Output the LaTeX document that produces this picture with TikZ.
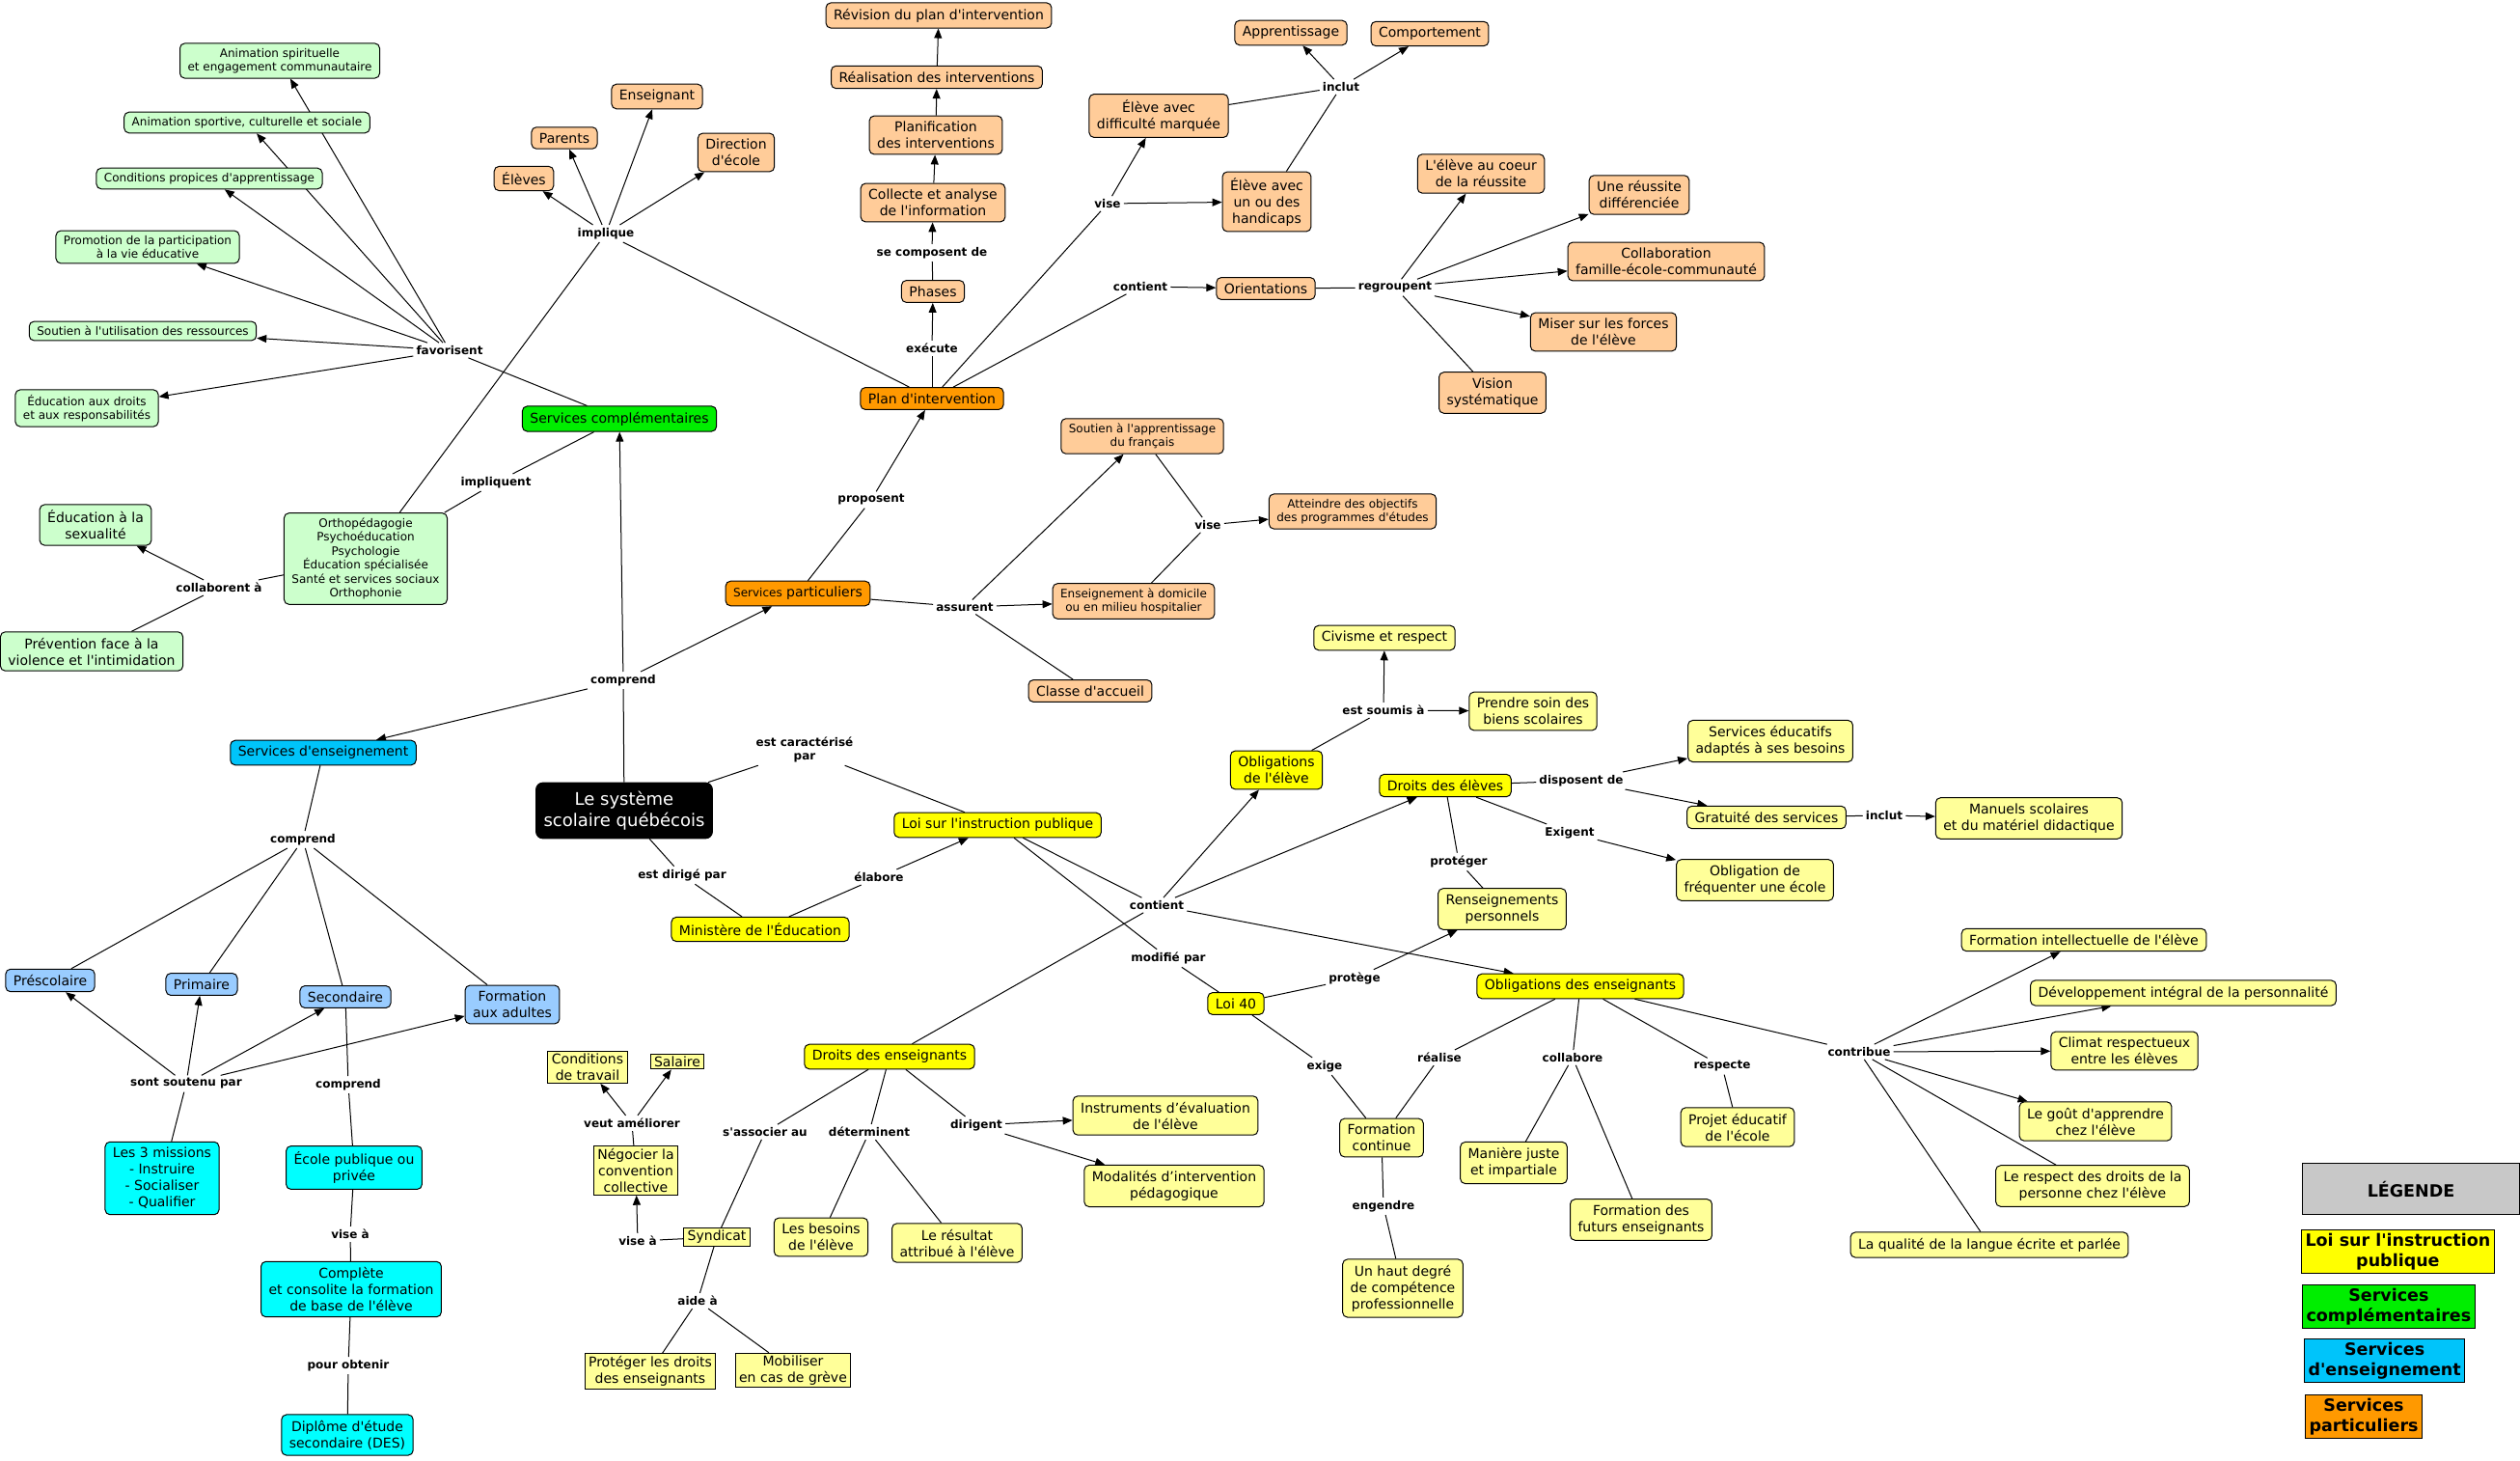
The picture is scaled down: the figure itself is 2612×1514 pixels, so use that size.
\documentclass[tikz,border=0pt]{standalone}
\usepackage{fontspec}
\setmainfont{DejaVu Sans}[Ligatures=TeXOff]
\usetikzlibrary{arrows.meta,backgrounds}

\definecolor{paleGreen}{HTML}{CCFFCC}
\definecolor{brightGreen}{HTML}{00EE00}
\definecolor{peach}{HTML}{FFCC99}
\definecolor{deepOrange}{HTML}{FF9900}
\definecolor{skyBlue}{HTML}{00C4FA}
\definecolor{paleBlue}{HTML}{99CCFF}
\definecolor{aqua}{HTML}{00FFFF}
\definecolor{lawYellow}{HTML}{FFFF00}
\definecolor{paleYellow}{HTML}{FFFF99}
\definecolor{legGrey}{HTML}{C8C8C8}

\tikzset{
  concept/.style={draw, line width=1pt, rounded corners=5pt, align=center,
    inner xsep=8pt, inner ysep=6pt, font=\fontsize{14}{17}\selectfont},
  smalltxt/.style={font=\fontsize{12}{14.5}\selectfont, inner ysep=5pt},
  cgreen/.style={concept, fill=paleGreen},
  cgreenB/.style={concept, fill=brightGreen},
  cpeach/.style={concept, fill=peach},
  corange/.style={concept, fill=deepOrange},
  cblue/.style={concept, fill=skyBlue},
  cpblue/.style={concept, fill=paleBlue},
  caqua/.style={concept, fill=aqua},
  cyellow/.style={concept, fill=lawYellow},
  cpyellow/.style={concept, fill=paleYellow},
  sqbox/.style={draw, line width=1pt, fill=paleYellow, align=center,
    inner xsep=4pt, inner ysep=2.5pt, font=\fontsize{14}{17}\selectfont},
  lbl/.style={font=\bfseries\fontsize{12}{14}\selectfont, align=center, inner sep=3pt},
  legbox/.style={draw, line width=1pt, align=center, anchor=west,
    inner xsep=4pt, inner ysep=4pt, font=\bfseries\fontsize{17.5}{20.5}\selectfont},
  link/.style={line width=1pt},
  arr/.style={link, -{Triangle[length=10pt,width=8pt]}}
}

\begin{document}
\begin{tikzpicture}[x=1pt,y=-1pt]
\useasboundingbox (0,0) rectangle (2612,1514);

% services complementaires
\node[cgreen,smalltxt] (animSpir) at (290,63) {Animation spirituelle\\et engagement communautaire};
\node[cgreen,smalltxt] (animSport) at (256,127) {Animation sportive, culturelle et sociale};
\node[cgreen,smalltxt] (condApp) at (217,185) {Conditions propices d'apprentissage};
\node[cgreen,smalltxt] (promoPart) at (153,256) {Promotion de la participation\\à la vie éducative};
\node[cgreen,smalltxt] (soutRess) at (148,343) {Soutien à l'utilisation des ressources};
\node[cgreen,smalltxt] (eduDroits) at (90,423) {Éducation aux droits\\et aux responsabilités};
\node[cgreen] (eduSex) at (99,544) {Éducation à la\\sexualité};
\node[cgreen,smalltxt] (ortho) at (379,579) {Orthopédagogie\\Psychoéducation\\Psychologie\\Éducation spécialisée\\Santé et services sociaux\\Orthophonie};
\node[cgreen] (prevention) at (95,675) {Prévention face à la\\violence et l'intimidation};
\node[cgreenB] (servComp) at (642,434) {Services complémentaires};

% plan d'intervention
\node[cpeach] (eleves) at (543,185) {Élèves};
\node[cpeach] (parents) at (585,143) {Parents};
\node[cpeach] (enseignant) at (681,100) {Enseignant};
\node[cpeach] (direction) at (763,158) {Direction\\d'école};
\node[cpeach] (revision) at (973,16) {Révision du plan d'intervention};
\node[cpeach] (realisation) at (971,80) {Réalisation des interventions};
\node[cpeach] (planif) at (970,140) {Planification\\des interventions};
\node[cpeach] (collecte) at (967,210) {Collecte et analyse\\de l'information};
\node[cpeach] (phases) at (967,302) {Phases};
\node[cpeach] (diffMarq) at (1201,120) {Élève avec\\difficulté marquée};
\node[cpeach] (handicap) at (1313,209) {Élève avec\\un ou des\\handicaps};
\node[cpeach] (apprent) at (1338,34) {Apprentissage};
\node[cpeach] (comport) at (1482,35) {Comportement};
\node[cpeach] (orient) at (1312,299) {Orientations};
\node[cpeach] (coeur) at (1535,180) {L'élève au coeur\\de la réussite};
\node[cpeach] (reussDiff) at (1699,202) {Une réussite\\différenciée};
\node[cpeach] (collab) at (1727,271) {Collaboration\\famille-école-communauté};
\node[cpeach] (forces) at (1662,344) {Miser sur les forces\\de l'élève};
\node[cpeach] (vision) at (1547,407) {Vision\\systématique};
\node[cpeach,smalltxt] (soutFr) at (1184,452) {Soutien à l'apprentissage\\du français};
\node[cpeach,smalltxt] (domicile) at (1175,623) {Enseignement à domicile\\ou en milieu hospitalier};
\node[cpeach,smalltxt] (atteindre) at (1402,530) {Atteindre des objectifs\\des programmes d'études};
\node[cpeach] (accueil) at (1130,716) {Classe d'accueil};
\node[corange] (plan) at (966,413) {Plan d'intervention};
\node[corange] (servPart) at (827,615) {{\fontsize{12}{14}\selectfont Services} particuliers};

% systeme et services d'enseignement
\node[concept, fill=black, text=white, font=\fontsize{18}{21.5}\selectfont, inner ysep=9pt,
  rounded corners=7pt] (systeme) at (647,840) {Le système\\scolaire québécois};
\node[cblue] (servEns) at (335,780) {Services d'enseignement};
\node[cpblue] (presco) at (52,1016) {Préscolaire};
\node[cpblue] (primaire) at (209,1020) {Primaire};
\node[cpblue] (second) at (358,1033) {Secondaire};
\node[cpblue] (adultes) at (531,1041) {Formation\\aux adultes};
\node[caqua] (missions) at (168,1221) {Les 3 missions\\- Instruire\\- Socialiser\\- Qualifier};
\node[caqua] (ecole) at (367,1210) {École publique ou\\privée};
\node[caqua] (complete) at (364,1336) {Complète\\et consolite la formation\\de base de l'élève};
\node[caqua] (diplome) at (360,1487) {Diplôme d'étude\\secondaire (DES)};

% loi sur l'instruction publique
\node[cyellow] (loi) at (1034,855) {Loi sur l'instruction publique};
\node[cyellow] (ministere) at (788,963) {Ministère de l'Éducation};
\node[cyellow] (oblEleve) at (1323,798) {Obligations\\de l'élève};
\node[cyellow] (droitsEl) at (1498,814) {Droits des élèves};
\node[cyellow] (droitsEns) at (922,1095) {Droits des enseignants};
\node[cyellow] (loi40) at (1281,1040) {Loi 40};
\node[cyellow] (oblEns) at (1638,1022) {Obligations des enseignants};
\node[cpyellow] (civisme) at (1435,661) {Civisme et respect};
\node[cpyellow] (soin) at (1589,737) {Prendre soin des\\biens scolaires};
\node[cpyellow] (servEduc) at (1835,768) {Services éducatifs\\adaptés à ses besoins};
\node[cpyellow] (gratuite) at (1831,847) {Gratuité des services};
\node[cpyellow] (manuels) at (2103,848) {Manuels scolaires\\et du matériel didactique};
\node[cpyellow] (frequenter) at (1819,912) {Obligation de\\fréquenter une école};
\node[cpyellow] (renseign) at (1557,942) {Renseignements\\personnels};
\node[cpyellow] (instruments) at (1208,1156) {Instruments d’évaluation\\de l'élève};
\node[cpyellow] (modalites) at (1217,1229) {Modalités d’intervention\\pédagogique};
\node[cpyellow] (besoins) at (851,1282) {Les besoins\\de l'élève};
\node[cpyellow] (resultat) at (992,1288) {Le résultat\\attribué à l'élève};
\node[cpyellow] (formCont) at (1432,1179) {Formation\\continue};
\node[cpyellow] (hautDeg) at (1454,1335) {Un haut degré\\de compétence\\professionnelle};
\node[cpyellow] (maniere) at (1569,1205) {Manière juste\\et impartiale};
\node[cpyellow] (futurs) at (1701,1264) {Formation des\\futurs enseignants};
\node[cpyellow] (projet) at (1801,1168) {Projet éducatif\\de l'école};
\node[cpyellow] (formIntel) at (2160,974) {Formation intellectuelle de l'élève};
\node[cpyellow] (develop) at (2263,1029) {Développement intégral de la personnalité};
\node[cpyellow] (climat) at (2202,1089) {Climat respectueux\\entre les élèves};
\node[cpyellow] (gout) at (2172,1162) {Le goût d'apprendre\\chez l'élève};
\node[cpyellow] (respDroits) at (2169,1229) {Le respect des droits de la\\personne chez l'élève};
\node[cpyellow] (qualite) at (2062,1290) {La qualité de la langue écrite et parlée};
\node[sqbox] (condTrav) at (609,1106) {Conditions\\de travail};
\node[sqbox] (salaire) at (702,1100) {Salaire};
\node[sqbox] (negocier) at (659,1213) {Négocier la\\convention\\collective};
\node[sqbox] (syndicat) at (743,1282) {Syndicat};
\node[sqbox] (protDroits) at (674,1421) {Protéger les droits\\des enseignants};
\node[sqbox] (mobiliser) at (822,1420) {Mobiliser\\en cas de grève};

% mots de liaison
\node[lbl] (fav) at (466,363) {favorisent};
\node[lbl] (impl) at (628,242) {implique};
\node[lbl] (implq) at (514,500) {impliquent};
\node[lbl] (collabA) at (227,609) {collaborent à};
\node[lbl] (compr1) at (646,705) {comprend};
\node[lbl] (compr2) at (314,870) {comprend};
\node[lbl] (compr3) at (361,1124) {comprend};
\node[lbl] (soutenu) at (193,1123) {sont soutenu par};
\node[lbl] (viseA1) at (363,1279) {vise à};
\node[lbl] (pourObt) at (361,1415) {pour obtenir};
\node[lbl] (proposent) at (903,518) {proposent};
\node[lbl] (executeL) at (966,361) {exécute};
\node[lbl] (composent) at (966,262) {se composent de};
\node[lbl] (vise1) at (1148,211) {vise};
\node[lbl] (inclut1) at (1390,90) {inclut};
\node[lbl] (contient1) at (1182,297) {contient};
\node[lbl] (regroupent) at (1446,298) {regroupent};
\node[lbl] (assurent) at (1000,629) {assurent};
\node[lbl] (vise2) at (1252,544) {vise};
\node[lbl] (caract) at (834,777) {est caractérisé\\par};
\node[lbl] (dirige) at (707,907) {est dirigé par};
\node[lbl] (elabore) at (911,909) {élabore};
\node[lbl] (contient2) at (1199,938) {contient};
\node[lbl] (modifie) at (1211,993) {modifié par};
\node[lbl] (soumis) at (1434,736) {est soumis à};
\node[lbl] (disposent) at (1639,809) {disposent de};
\node[lbl] (inclut2) at (1953,845) {inclut};
\node[lbl] (exigent) at (1627,863) {Exigent};
\node[lbl] (proteger) at (1512,893) {protéger};
\node[lbl] (protege) at (1404,1014) {protège};
\node[lbl] (exige) at (1373,1105) {exige};
\node[lbl] (realise) at (1492,1096) {réalise};
\node[lbl] (collabore) at (1630,1096) {collabore};
\node[lbl] (respecte) at (1785,1105) {respecte};
\node[lbl] (contribue) at (1927,1090) {contribue};
\node[lbl] (engendre) at (1434,1250) {engendre};
\node[lbl] (veutAm) at (655,1164) {veut améliorer};
\node[lbl] (viseA2) at (661,1286) {vise à};
\node[lbl] (aideA) at (723,1348) {aide à};
\node[lbl] (associer) at (793,1173) {s'associer au};
\node[lbl] (determinent) at (901,1173) {déterminent};
\node[lbl] (dirigent) at (1012,1166) {dirigent};

% legende
\node[legbox, fill=legGrey, minimum width=225pt, minimum height=53pt] (legTitle) at (2386,1232) {LÉGENDE};
\node[legbox, fill=lawYellow] (legLoi) at (2385,1297) {Loi sur l'instruction\\publique};
\node[legbox, fill=brightGreen] (legComp) at (2386,1354) {Services\\complémentaires};
\node[legbox, fill=skyBlue] (legEns) at (2388,1410) {Services\\d'enseignement};
\node[legbox, fill=deepOrange] (legPart) at (2389,1468) {Services\\particuliers};

\begin{scope}[on background layer]
\fill[white] (0,0) rectangle (2612,1514);
% services complementaires
\draw[link] (servComp) -- (fav);
\foreach \dst in {animSpir,animSport,condApp,promoPart,soutRess,eduDroits}
  \draw[arr] (fav) -- (\dst);
\draw[link] (plan) -- (impl);
\draw[link] (ortho) -- (impl);
\foreach \dst in {eleves,parents,enseignant,direction}
  \draw[arr] (impl) -- (\dst);
\draw[link] (servComp) -- (implq);
\draw[link] (implq) -- (ortho);
\draw[link] (ortho) -- (collabA);
\draw[arr] (collabA) -- (eduSex);
\draw[link] (collabA) -- (prevention);
% systeme
\draw[link] (systeme) -- (compr1);
\foreach \dst in {servComp,servEns,servPart}
  \draw[arr] (compr1) -- (\dst);
\draw[link] (servEns) -- (compr2);
\foreach \dst in {presco,primaire,second,adultes}
{
  \draw[link] (compr2) -- (\dst);
  \draw[arr] (soutenu) -- (\dst);
}
\draw[link] (missions) -- (soutenu);
\draw[link] (second) -- (compr3);
\draw[link] (compr3) -- (ecole);
\draw[link] (ecole) -- (viseA1);
\draw[link] (viseA1) -- (complete);
\draw[link] (complete) -- (pourObt);
\draw[link] (pourObt) -- (diplome);
% plan d'intervention
\draw[link] (servPart) -- (proposent);
\draw[arr] (proposent) -- (plan);
\draw[link] (plan) -- (executeL);
\draw[arr] (executeL) -- (phases);
\draw[link] (phases) -- (composent);
\draw[arr] (composent) -- (collecte);
\draw[arr] (collecte) -- (planif);
\draw[arr] (planif) -- (realisation);
\draw[arr] (realisation) -- (revision);
\draw[link] (plan) -- (vise1);
\foreach \dst in {diffMarq,handicap}
  \draw[arr] (vise1) -- (\dst);
\draw[link] (diffMarq) -- (inclut1);
\draw[link] (handicap) -- (inclut1);
\foreach \dst in {apprent,comport}
  \draw[arr] (inclut1) -- (\dst);
\draw[link] (plan) -- (contient1);
\draw[arr] (contient1) -- (orient);
\draw[link] (orient) -- (regroupent);
\foreach \dst in {coeur,reussDiff,collab,forces}
  \draw[arr] (regroupent) -- (\dst);
\draw[link] (regroupent) -- (vision);
\draw[link] (servPart) -- (assurent);
\foreach \dst in {domicile,soutFr}
  \draw[arr] (assurent) -- (\dst);
\draw[link] (assurent) -- (accueil);
\draw[link] (soutFr) -- (vise2);
\draw[link] (domicile) -- (vise2);
\draw[arr] (vise2) -- (atteindre);
% loi
\draw[link] (systeme) -- (caract);
\draw[link] (caract) -- (loi);
\draw[link] (systeme) -- (dirige);
\draw[link] (dirige) -- (ministere);
\draw[link] (ministere) -- (elabore);
\draw[arr] (elabore) -- (loi);
\draw[link] (loi) -- (contient2);
\foreach \dst in {oblEleve,droitsEl,oblEns}
  \draw[arr] (contient2) -- (\dst);
\draw[link] (contient2) -- (droitsEns);
\draw[link] (loi) -- (modifie);
\draw[link] (modifie) -- (loi40);
\draw[link] (oblEleve) -- (soumis);
\foreach \dst in {civisme,soin}
  \draw[arr] (soumis) -- (\dst);
\draw[link] (droitsEl) -- (disposent);
\foreach \dst in {servEduc,gratuite}
  \draw[arr] (disposent) -- (\dst);
\draw[link] (gratuite) -- (inclut2);
\draw[arr] (inclut2) -- (manuels);
\draw[link] (droitsEl) -- (exigent);
\draw[arr] (exigent) -- (frequenter);
\draw[link] (droitsEl) -- (proteger);
\draw[link] (proteger) -- (renseign);
\draw[link] (loi40) -- (protege);
\draw[arr] (protege) -- (renseign);
\draw[link] (loi40) -- (exige);
\draw[link] (exige) -- (formCont);
\draw[link] (oblEns) -- (realise);
\draw[link] (realise) -- (formCont);
\draw[link] (formCont) -- (engendre);
\draw[link] (engendre) -- (hautDeg);
\draw[link] (oblEns) -- (collabore);
\foreach \dst in {maniere,futurs}
  \draw[link] (collabore) -- (\dst);
\draw[link] (oblEns) -- (respecte);
\draw[link] (respecte) -- (projet);
\draw[link] (oblEns) -- (contribue);
\foreach \dst in {formIntel,develop,climat,gout}
  \draw[arr] (contribue) -- (\dst);
\foreach \dst in {respDroits,qualite}
  \draw[link] (contribue) -- (\dst);
% enseignants et syndicat
\draw[link] (negocier) -- (veutAm);
\foreach \dst in {condTrav,salaire}
  \draw[arr] (veutAm) -- (\dst);
\draw[link] (syndicat) -- (viseA2);
\draw[arr] (viseA2) -- (negocier);
\draw[link] (syndicat) -- (aideA);
\foreach \dst in {protDroits,mobiliser}
  \draw[link] (aideA) -- (\dst);
\draw[link] (droitsEns) -- (associer);
\draw[link] (associer) -- (syndicat);
\draw[link] (droitsEns) -- (determinent);
\foreach \dst in {besoins,resultat}
  \draw[link] (determinent) -- (\dst);
\draw[link] (droitsEns) -- (dirigent);
\foreach \dst in {instruments,modalites}
  \draw[arr] (dirigent) -- (\dst);
\end{scope}
\end{tikzpicture}
\end{document}
